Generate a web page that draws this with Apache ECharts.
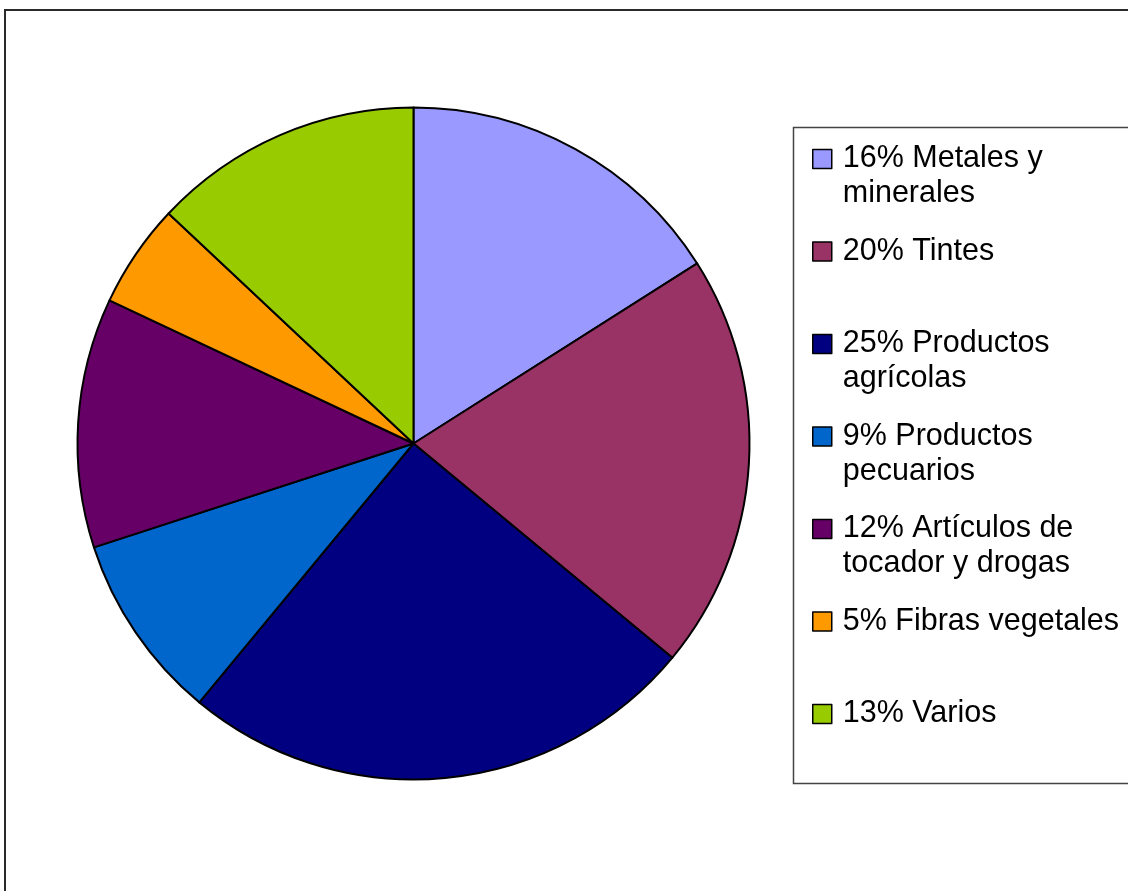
<!DOCTYPE html>
<html>
<head>
<meta charset="utf-8">
<script src="https://cdn.jsdelivr.net/npm/echarts@6/dist/echarts.min.js"></script>
<style>
  html, body { margin: 0; padding: 0; background: #fff; }
  #chart { width: 1128px; height: 891px; }
</style>
</head>
<body>
<div id="chart"></div>
<script>
// Categories (line breaks mark where the legend wraps each name)
const categories = [
  'Metales y\nminerales',
  'Tintes',
  'Productos\nagrícolas',
  'Productos\npecuarios',
  'Artículos de\ntocador y drogas',
  'Fibras vegetales',
  'Varios'
];
// Share of each category, in percent
const shares = [16, 20, 25, 9, 12, 5, 13];
const colors = ['#9999FF', '#993366', '#000080', '#0066CC', '#660066', '#FF9900', '#99CC00'];

const pieData = categories.map((name, i) => ({
  name: name,
  value: shares[i],
  itemStyle: { color: colors[i] }
}));

// Legend text: every entry is padded to three lines so the swatch sits on the
// first line and all entries take the same vertical slot.
function legendText(name) {
  const i = categories.indexOf(name);
  const lines = (shares[i] + '% ' + name).split('\n');
  if (lines.length === 1) return '\n' + lines[0] + '\n';
  return '\n' + lines.join('\n');
}

const chart = echarts.init(document.getElementById('chart'), null, { renderer: 'canvas' });
chart.setOption({
  animation: false,
  backgroundColor: '#ffffff',
  textStyle: { fontFamily: '"Liberation Sans", Arial, sans-serif' },
  graphic: [
    {
      type: 'rect',
      z: -1,
      shape: { x: 5, y: 10, width: 1300, height: 1000 },
      style: { fill: 'none', stroke: '#2a2a2a', lineWidth: 2 }
    },
    {
      type: 'rect',
      z: -1,
      shape: { x: 793.5, y: 127.5, width: 500, height: 656 },
      style: { fill: 'none', stroke: '#444444', lineWidth: 1.5 }
    }
  ],
  legend: {
    orient: 'vertical',
    left: 812,
    top: 106.5,
    padding: 0,
    itemGap: -12.5,
    itemWidth: 19,
    itemHeight: 19,
    icon: 'rect',
    selectedMode: false,
    itemStyle: { borderColor: '#000000', borderWidth: 1.5 },
    formatter: legendText,
    textStyle: {
      fontFamily: '"Liberation Sans", Arial, sans-serif',
      fontSize: 30.5,
      lineHeight: 35,
      color: '#000000',
      padding: [0, 0, 0, 6]
    },
    data: categories
  },
  series: [
    {
      type: 'pie',
      center: [413.5, 443.5],
      radius: 336,
      startAngle: 90,
      clockwise: true,
      label: { show: false },
      labelLine: { show: false },
      emphasis: { disabled: true },
      itemStyle: { borderColor: '#000000', borderWidth: 2 },
      data: pieData
    }
  ]
});
</script>
</body>
</html>
